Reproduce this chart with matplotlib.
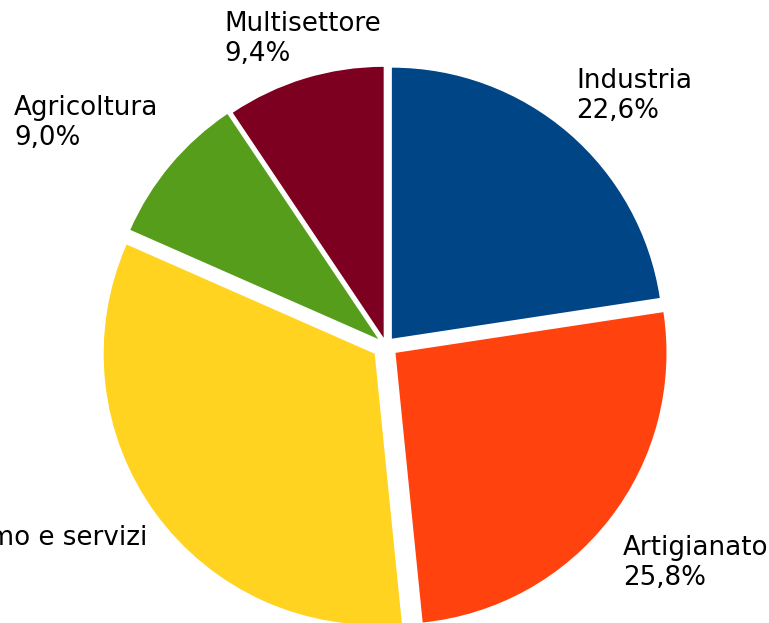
import matplotlib
matplotlib.use("Agg")
import matplotlib.pyplot as plt

categories = ["Industria", "Artigianato", "Commercio, turismo e servizi", "Agricoltura", "Multisettore"]
values = [22.6, 25.8, 33.2, 9.0, 9.4]
colors = ["#004586", "#ff420e", "#ffd320", "#579d1c", "#7e0021"]
explode = [9, 12, 14, 10, 8]

W, H = 769, 623
cx, cy = 386, 345.5   # pie centre in pixels (from top-left)
R = 271

fig = plt.figure(figsize=(W / 100, H / 100), dpi=100)
ax = fig.add_axes([0, 0, 1, 1])
ax.axis("off")

ax.pie(values, colors=colors, startangle=90, counterclock=False,
       radius=R, explode=explode,
       wedgeprops=dict(linewidth=0), center=(0, 0), frame=False)
ax.set_xlim(-cx, W - cx)
ax.set_ylim(-(H - cy), cy)
ax.set_aspect("equal")

def fmt(v):
    return f"{v:.1f}".replace(".", ",") + "%"

# label anchor (pixel x, pixel baseline y of last line, horizontal alignment)
label_pos = [(576, 118, "left"), (623, 585, "left"), (147, 575, "right"),
             (14, 145, "left"), (224, 61, "left")]

for cat, v, (px, py, ha) in zip(categories, values, label_pos):
    ax.text(px - cx, cy - py, f"{cat}\n{fmt(v)}", ha=ha, va="baseline",
            multialignment="left", fontsize=18.8, color="black",
            family="DejaVu Sans", linespacing=1.2)

fig.savefig("out.png", dpi=100)
